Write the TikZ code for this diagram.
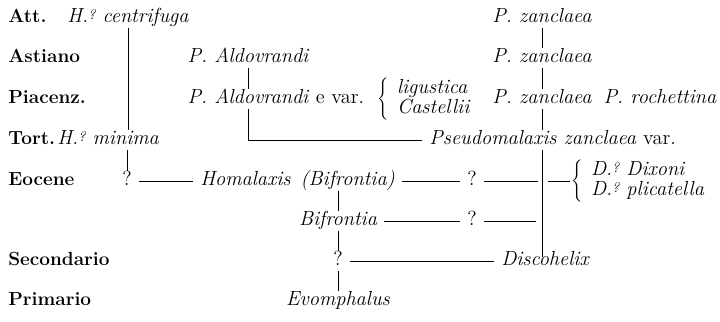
\documentclass[tikz,border=0pt]{standalone}
\newcommand{\hq}{{\fontsize{10}{10}\selectfont\raisebox{2.2pt}{?}}}
\begin{document}
\begin{tikzpicture}[x=0.025cm,y=-0.025cm,line width=.45pt,
  every node/.style={font=\fontsize{14.5}{16}\selectfont, inner xsep=5pt, inner ysep=2pt,
    text height=8pt, text depth=2pt},
  era/.style={font=\fontsize{13.5}{15}\selectfont\bfseries, anchor=west},
  sp/.style={font=\fontsize{14.5}{16}\selectfont\itshape},
  brace/.style={anchor=west, inner xsep=1pt, text height={}, text depth={}},
  upper/.style={sp, anchor=west, inner xsep=3pt, inner ysep=0pt, text depth=1pt, yshift=7.1pt},
  lower/.style={sp, anchor=west, inner xsep=3pt, inner ysep=0pt, text depth=1pt, yshift=-7.1pt}]
\useasboundingbox (0,0) rectangle (720,321);

% ages
\node[era] (att) at (1,18) {Att.};
\node[era] (ast) at (1,58) {Astiano};
\node[era] (pia) at (1,99) {Piacenz.};
\node[era] (tor) at (1,140) {Tort.};
\node[era] (eoc) at (1,181) {Eocene};
\node[era] (sec) at (1,261) {Secondario};
\node[era] (pri) at (1,301) {Primario};

% left branch
\node[sp] (hc) at (128,18) {H.\hq\ centrifuga};
\node[sp,anchor=west] (hm) at (50,140) {H.\hq\ minima};
\node (q1) at (127,181) {?};
\draw (hc) -- (hc |- hm.north);
\draw (q1 |- hm.south) -- (q1);

% Aldovrandi
\node[sp] (pa1) at (248,58) {P. Aldovrandi};
\node[sp] (pa2) at (248,99) {P. Aldovrandi};
\node[anchor=west,inner xsep=0pt] (var) at (pa2.east) {e var.};
\node[brace] (b1) at (376,99) {$\left\{\vrule height 14pt depth 11pt width 0pt\right.$};
\node[upper] (lg) at (b1.east) {ligustica};
\node[lower] (ca) at (b1.east) {Castellii};
\draw (pa1) -- (pa2);

% zanclaea
\node[sp] (z1) at (542,18) {P. zanclaea};
\node[sp] (z2) at (542,58) {P. zanclaea};
\node[sp] (z3) at (542,99) {P. zanclaea};
\node[sp] (ro) at (660,99) {P. rochettina};
\node[sp,anchor=west] (ps) at (422,140) {Pseudomalaxis zanclaea \upshape var.};
\draw (z1) -- (z2);
\draw (z2) -- (z3);
\draw (z3) -- (z3 |- ps.north);
\draw (pa2) |- (ps);
\coordinate (v) at (542,257);
\draw (z3 |- ps.south) -- (v);

% Eocene
\node[sp,anchor=west] (ho) at (193,181) {Homalaxis\hspace{2pt} (Bifrontia)};
\node (q2) at (472,181) {?};
\coordinate (e1) at (538,181);
\coordinate (e2) at (548,181);
\node[brace] (b2) at (570,181) {$\left\{\vrule height 14pt depth 11pt width 0pt\right.$};
\node[upper] (dx) at (b2.east) {D.\hq\ Dixoni};
\node[lower] (dp) at (b2.east) {D.\hq\ plicatella};
\draw (q1) -- (ho);
\draw (ho) -- (q2);
\draw (q2) -- (e1);
\draw (e2) -- (b2);

% Bifrontia and below
\node[sp] (bi) at (338,221) {Bifrontia};
\node (q4) at (472,221) {?};
\coordinate (e3) at (536,221);
\node (q3) at (338,261) {?};
\node[sp] (dh) at (545,261) {Discohelix};
\node[sp] (ev) at (338,301) {Evomphalus};
\draw (bi |- ho.south) -- (bi);
\draw (bi) -- (q4);
\draw (q4) -- (e3);
\draw (bi) -- (q3);
\draw (q3) -- (dh);
\draw (q3) -- (ev);
\end{tikzpicture}
\end{document}
